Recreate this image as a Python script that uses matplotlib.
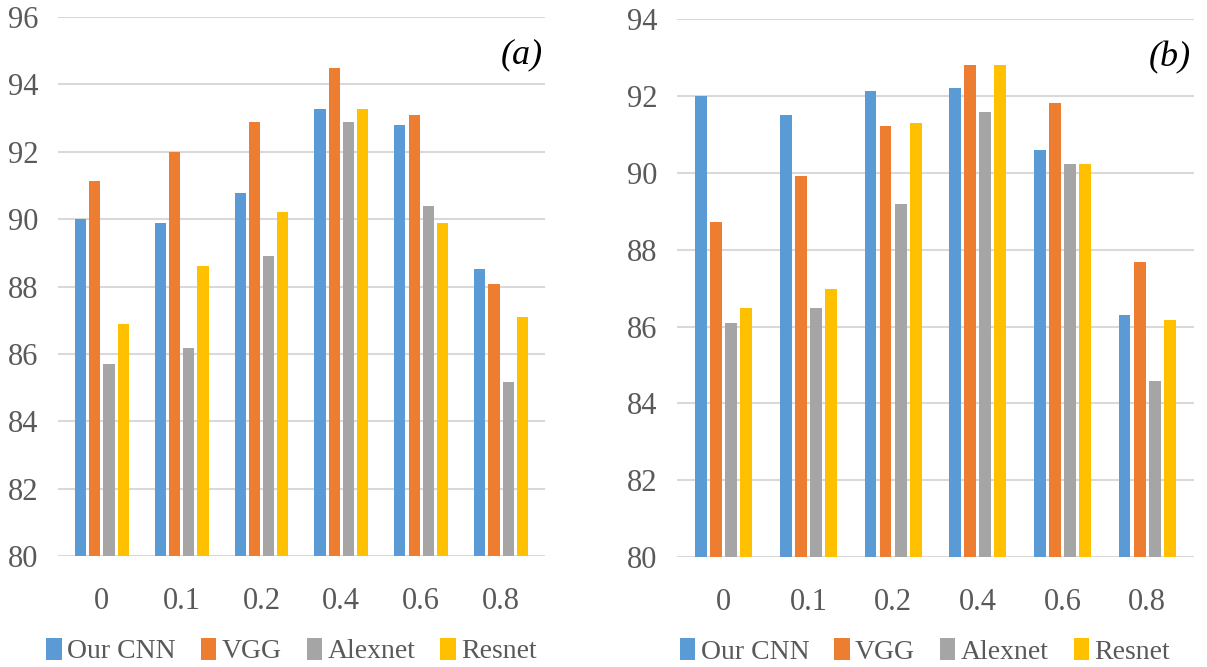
import numpy as np
import matplotlib
matplotlib.use("Agg")
import matplotlib.pyplot as plt
from matplotlib.patches import Patch

categories = ["0", "0.1", "0.2", "0.4", "0.6", "0.8"]
series_names = ["Our CNN", "VGG", "Alexnet", "Resnet"]
colors = ["#5B9BD5", "#ED7D31", "#A5A5A5", "#FFC000"]

# panel (a)
a_cnn = [90.0, 89.9, 90.78, 93.28, 92.79, 88.52]
a_vgg = [91.13, 92.0, 92.89, 94.5, 93.09, 88.07]
a_alex = [85.7, 86.17, 88.91, 92.89, 90.39, 85.16]
a_res = [86.9, 88.62, 90.2, 93.28, 89.9, 87.1]

# panel (b)
b_cnn = [92.0, 91.52, 92.13, 92.2, 90.6, 86.3]
b_vgg = [88.72, 89.92, 91.22, 92.8, 91.82, 87.69]
b_alex = [86.08, 86.47, 89.2, 91.6, 90.22, 84.58]
b_res = [86.47, 86.99, 91.3, 92.8, 90.22, 86.16]

TXT = "#595959"
FONT = "Liberation Serif"


def draw(ax, data, ymax, tag):
    x = np.arange(len(categories))
    pitch = 0.178
    for i, (vals, c) in enumerate(zip(data, colors)):
        ax.bar(x + (i - 1.5) * pitch, np.array(vals) - 80, bottom=80, width=0.14,
               color=c, zorder=3)
    ax.set_ylim(80, ymax)
    ax.set_xlim(-0.55, len(categories) - 0.45)
    ax.set_yticks(np.arange(80, ymax + 1, 2))
    ax.yaxis.grid(True, color="#D9D9D9", linewidth=1.5, zorder=0)
    for s in ["top", "right", "left", "bottom"]:
        ax.spines[s].set_visible(False)
    ax.tick_params(length=0, colors=TXT, labelsize=22)
    ax.tick_params(axis="x", pad=22)
    ax.tick_params(axis="y", pad=14)
    ax.set_xticks(x)
    ax.set_xticklabels(categories)
    for lab in ax.get_xticklabels() + ax.get_yticklabels():
        lab.set_fontfamily(FONT)
    ax.text(0.995, 0.96, tag, transform=ax.transAxes, ha="right", va="top",
            fontsize=26, style="italic", family=FONT, color="black")
    handles = [Patch(facecolor=c) for c in colors]
    ax.legend(handles, series_names, loc="center", bbox_to_anchor=(0.48, -0.176),
              ncol=4, frameon=False, handlelength=0.55, handleheight=0.85,
              handletextpad=0.2, columnspacing=0.9,
              prop={"family": FONT, "size": 20}, labelcolor=TXT)


fig = plt.figure(figsize=(12.07, 6.67), dpi=100)
ax1 = fig.add_axes([0.048, 0.1664, 0.4035, 0.808])
ax2 = fig.add_axes([0.561, 0.165, 0.428, 0.806])

draw(ax1, [a_cnn, a_vgg, a_alex, a_res], 96, "(a)")
draw(ax2, [b_cnn, b_vgg, b_alex, b_res], 94, "(b)")

fig.savefig("out.png", dpi=100)
